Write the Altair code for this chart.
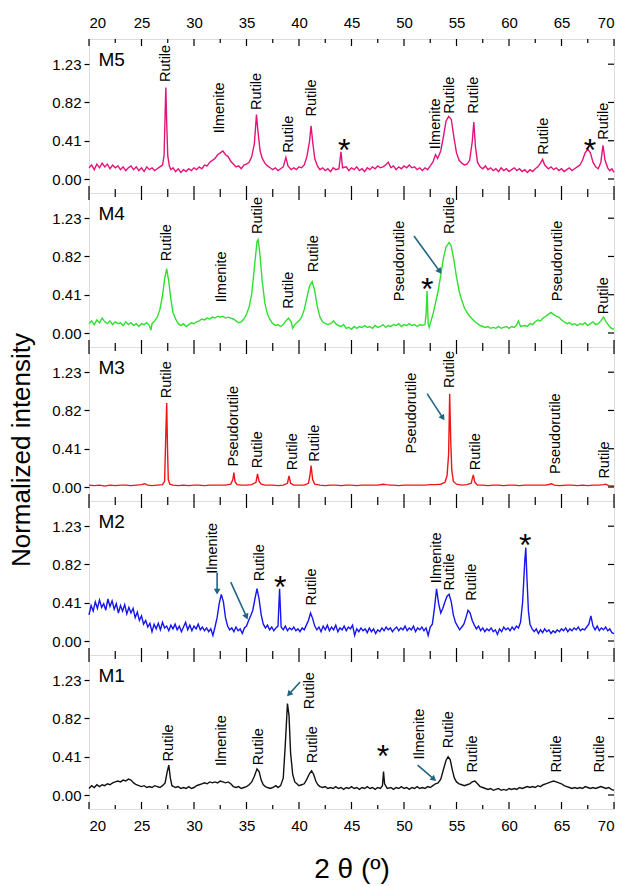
import math
import altair as alt
import pandas as pd

X_DOMAIN = [20, 70]
Y_DOMAIN = [-0.15, 1.5]
W, H = 525, 154
FONT = "Liberation Sans"
TEAL = "#21647e"

x_major = [20, 25, 30, 35, 40, 45, 50, 55, 60, 65, 70]
x_minor = [22.5, 27.5, 32.5, 37.5, 42.5, 47.5, 52.5, 57.5, 62.5, 67.5]
y_ticks = [0.0, 0.41, 0.82, 1.23]

# ---------------- spectra (2theta, normalized intensity) ----------------
m5 = [(20.0, .12), (20.25, .15), (20.5, .10), (20.75, .16), (21.0, .12), (21.25, .17), (21.5, .13), (21.75, .16),
      (22.0, .11), (22.25, .15), (22.5, .12), (22.75, .14), (23.0, .10), (23.25, .13), (23.5, .09), (23.75, .12),
      (24.0, .14), (24.25, .10), (24.5, .13), (24.75, .09), (25.0, .12), (25.25, .08), (25.5, .13), (25.75, .10),
      (26.0, .12), (26.25, .09), (26.5, .11), (26.75, .13), (27.0, .15), (27.15, .25), (27.25, .70), (27.32, .98),
      (27.4, .60), (27.5, .25), (27.65, .14), (27.8, .10), (28.0, .12), (28.25, .08), (28.5, .11), (28.75, .07),
      (29.0, .10), (29.25, .08), (29.5, .11), (29.75, .09), (30.0, .12), (30.25, .10), (30.5, .13), (30.75, .11),
      (31.0, .15), (31.25, .14), (31.5, .18), (31.75, .20), (32.0, .22), (32.25, .26), (32.5, .28), (32.75, .30),
      (33.0, .26), (33.25, .24), (33.5, .19), (33.75, .16), (34.0, .13), (34.25, .14), (34.5, .11), (34.75, .15),
      (35.0, .16), (35.25, .18), (35.5, .24), (35.75, .38), (35.95, .69), (36.1, .50), (36.3, .30), (36.5, .22),
      (36.75, .17), (37.0, .14), (37.25, .12), (37.5, .10), (37.75, .12), (38.0, .09), (38.25, .11), (38.5, .13),
      (38.75, .23), (38.95, .14), (39.25, .10), (39.5, .12), (39.75, .10), (40.0, .13), (40.25, .12), (40.5, .15),
      (40.75, .24), (41.0, .40), (41.15, .57), (41.3, .40), (41.5, .22), (41.75, .14), (42.0, .10), (42.25, .12),
      (42.5, .09), (42.75, .11), (43.0, .08), (43.25, .12), (43.5, .10), (43.8, .11), (44.0, .29), (44.15, .12),
      (44.5, .13), (44.75, .09), (45.0, .12), (45.25, .10), (45.5, .13), (45.75, .09), (46.0, .11), (46.25, .08),
      (46.5, .12), (46.75, .10), (47.0, .13), (47.25, .11), (47.5, .14), (47.75, .12), (48.0, .13), (48.25, .15),
      (48.5, .18), (48.75, .12), (49.0, .14), (49.25, .10), (49.5, .13), (49.75, .11), (50.0, .14), (50.25, .12),
      (50.5, .15), (50.75, .12), (51.0, .13), (51.25, .10), (51.5, .12), (51.75, .09), (52.0, .12), (52.25, .10),
      (52.5, .14), (52.75, .18), (53.0, .26), (53.2, .22), (53.5, .30), (53.75, .45), (54.0, .62), (54.25, .67),
      (54.5, .64), (54.75, .45), (55.0, .28), (55.25, .20), (55.5, .17), (55.75, .15), (56.0, .16), (56.25, .20),
      (56.5, .40), (56.65, .61), (56.8, .35), (57.0, .18), (57.25, .13), (57.5, .11), (57.75, .14), (58.0, .10),
      (58.25, .12), (58.5, .09), (58.75, .11), (59.0, .08), (59.25, .12), (59.5, .09), (59.75, .11), (60.0, .08),
      (60.25, .10), (60.5, .12), (60.75, .09), (61.0, .11), (61.25, .08), (61.5, .10), (61.75, .07), (62.0, .10),
      (62.25, .08), (62.5, .11), (62.75, .13), (63.0, .17), (63.2, .21), (63.4, .15), (63.75, .11), (64.0, .13),
      (64.25, .10), (64.5, .12), (64.75, .09), (65.0, .11), (65.25, .08), (65.5, .10), (65.75, .12), (66.0, .09),
      (66.25, .11), (66.5, .13), (66.75, .15), (67.0, .20), (67.25, .28), (67.5, .32), (67.75, .28), (68.0, .18),
      (68.25, .13), (68.5, .11), (68.75, .18), (68.95, .36), (69.15, .20), (69.4, .12), (69.6, .09), (69.8, .11),
      (70.0, .07)]

m4 = [(20.0, .10), (20.25, .13), (20.5, .09), (20.75, .14), (21.0, .11), (21.25, .16), (21.5, .12), (21.75, .10),
      (22.0, .13), (22.25, .09), (22.5, .12), (22.75, .10), (23.0, .11), (23.25, .08), (23.5, .12), (23.75, .09),
      (24.0, .11), (24.25, .08), (24.5, .10), (24.75, .07), (25.0, .10), (25.25, .09), (25.5, .11), (25.75, .08),
      (25.9, .03), (26.0, .10), (26.25, .13), (26.5, .17), (26.75, .25), (27.0, .40), (27.2, .58), (27.4, .69),
      (27.6, .55), (27.8, .36), (28.0, .22), (28.25, .15), (28.5, .10), (28.75, .08), (29.0, .10), (29.25, .07),
      (29.5, .09), (29.75, .11), (30.0, .10), (30.25, .12), (30.5, .13), (30.75, .15), (31.0, .14), (31.25, .16),
      (31.5, .15), (31.75, .17), (32.0, .16), (32.25, .18), (32.5, .17), (32.75, .18), (33.0, .16), (33.25, .17),
      (33.5, .16), (33.75, .15), (34.0, .13), (34.25, .11), (34.5, .12), (34.75, .15), (35.0, .20), (35.25, .28),
      (35.5, .42), (35.75, .70), (36.0, .98), (36.1, 1.0), (36.25, .88), (36.5, .55), (36.75, .32), (37.0, .20),
      (37.25, .14), (37.5, .10), (37.75, .08), (38.0, .09), (38.25, .07), (38.5, .09), (38.75, .13), (39.0, .16),
      (39.25, .12), (39.4, .05), (39.6, .09), (39.8, .11), (40.0, .13), (40.25, .17), (40.5, .25), (40.75, .38),
      (41.0, .50), (41.25, .55), (41.5, .45), (41.75, .28), (42.0, .17), (42.25, .12), (42.5, .10), (42.75, .09),
      (43.0, .10), (43.3, .13), (43.5, .10), (43.75, .08), (44.0, .07), (44.25, .09), (44.5, .05), (44.75, .06),
      (45.0, .04), (45.25, .07), (45.5, .05), (45.75, .07), (46.0, .06), (46.25, .08), (46.5, .06), (46.75, .07),
      (47.0, .05), (47.25, .08), (47.5, .06), (47.75, .07), (48.0, .09), (48.25, .06), (48.5, .08), (48.75, .07),
      (49.0, .09), (49.25, .08), (49.5, .10), (49.75, .07), (50.0, .09), (50.25, .08), (50.5, .10), (50.75, .08),
      (51.0, .09), (51.25, .07), (51.5, .09), (51.75, .08), (52.0, .09), (52.1, .20), (52.2, .45), (52.3, .10),
      (52.4, .06), (52.6, .14), (52.8, .22), (53.0, .32), (53.25, .45), (53.5, .62), (53.75, .80), (54.0, .92),
      (54.3, .97), (54.5, .93), (54.75, .78), (55.0, .60), (55.25, .45), (55.5, .35), (55.75, .27), (56.0, .22),
      (56.25, .18), (56.5, .15), (56.75, .12), (57.0, .10), (57.25, .08), (57.5, .07), (57.75, .06), (58.0, .07),
      (58.25, .05), (58.5, .06), (58.75, .05), (59.0, .07), (59.25, .05), (59.5, .06), (59.75, .07), (60.0, .05),
      (60.25, .07), (60.5, .06), (60.75, .09), (60.9, .13), (61.1, .07), (61.5, .08), (61.75, .07), (62.0, .10),
      (62.25, .09), (62.5, .12), (62.75, .14), (63.0, .13), (63.25, .16), (63.5, .18), (63.75, .20), (64.0, .22),
      (64.25, .20), (64.5, .18), (64.75, .17), (65.0, .14), (65.25, .12), (65.5, .10), (65.75, .11), (66.0, .09),
      (66.25, .10), (66.5, .08), (66.75, .10), (67.0, .09), (67.25, .11), (67.5, .08), (67.75, .10), (68.0, .12),
      (68.25, .09), (68.5, .10), (68.75, .13), (69.0, .17), (69.25, .12), (69.5, .08), (69.75, .05), (70.0, .04)]

m3 = [(20.0, .02), (20.5, .015), (21.0, .02), (21.5, .01), (22.0, .02), (22.5, .015), (23.0, .02), (23.5, .02),
      (24.0, .015), (24.5, .02), (25.0, .025), (25.3, .035), (25.6, .02), (26.0, .015), (26.5, .02), (27.0, .025),
      (27.2, .06), (27.3, .50), (27.4, .90), (27.48, .40), (27.55, .08), (27.7, .03), (28.0, .02), (28.5, .015),
      (29.0, .02), (29.5, .015), (30.0, .02), (30.5, .02), (31.0, .015), (31.5, .02), (32.0, .02), (32.5, .02),
      (33.0, .02), (33.5, .03), (33.7, .08), (33.8, .155), (33.9, .06), (34.1, .025), (34.5, .02), (35.0, .02),
      (35.5, .025), (35.9, .05), (36.05, .14), (36.2, .06), (36.4, .03), (36.8, .02), (37.5, .02), (38.0, .015),
      (38.5, .02), (38.9, .04), (39.05, .12), (39.2, .04), (39.5, .02), (40.0, .02), (40.5, .02), (40.9, .04),
      (41.05, .13), (41.15, .23), (41.3, .08), (41.5, .03), (42.0, .02), (42.5, .015), (43.0, .02), (43.5, .02),
      (44.0, .015), (44.5, .02), (45.0, .02), (45.5, .015), (46.0, .02), (46.5, .02), (47.0, .02), (47.5, .02),
      (48.0, .03), (48.3, .025), (48.7, .02), (49.0, .02), (49.5, .015), (50.0, .02), (50.5, .02), (51.0, .02),
      (51.5, .02), (52.0, .02), (52.5, .025), (53.0, .025), (53.5, .03), (53.9, .05), (54.1, .12), (54.25, .35),
      (54.35, 1.0), (54.45, .50), (54.55, .18), (54.7, .06), (55.0, .03), (55.5, .02), (56.0, .025), (56.4, .04),
      (56.6, .13), (56.75, .05), (57.0, .02), (57.5, .02), (58.0, .015), (58.5, .02), (59.0, .02), (59.5, .015),
      (60.0, .02), (60.5, .02), (61.0, .015), (61.5, .02), (62.0, .02), (62.5, .02), (63.0, .02), (63.5, .02),
      (63.9, .03), (64.05, .035), (64.3, .02), (64.8, .015), (65.5, .02), (66.0, .02), (66.5, .015), (67.0, .02),
      (67.5, .015), (68.0, .02), (68.5, .02), (69.0, .025), (69.2, .03), (69.5, .015), (70.0, .01)]

m2 = [(20.0, .28), (20.2, .38), (20.4, .32), (20.6, .42), (20.8, .35), (21.0, .44), (21.2, .36), (21.4, .40),
      (21.6, .33), (21.8, .45), (22.0, .37), (22.2, .43), (22.4, .34), (22.6, .40), (22.8, .30), (23.0, .38),
      (23.2, .32), (23.4, .39), (23.6, .29), (23.8, .36), (24.0, .30), (24.2, .35), (24.4, .25), (24.6, .31),
      (24.8, .22), (25.0, .27), (25.2, .18), (25.4, .22), (25.6, .15), (25.8, .19), (26.0, .10), (26.2, .18),
      (26.4, .13), (26.6, .19), (26.8, .12), (27.0, .20), (27.2, .14), (27.4, .16), (27.6, .11), (27.8, .17),
      (28.0, .13), (28.2, .18), (28.4, .12), (28.6, .16), (28.8, .10), (29.0, .15), (29.2, .20), (29.4, .12),
      (29.6, .17), (29.8, .11), (30.0, .16), (30.2, .13), (30.4, .18), (30.6, .12), (30.8, .15), (31.0, .11),
      (31.2, .14), (31.4, .10), (31.6, .13), (31.8, .06), (32.0, .15), (32.2, .25), (32.4, .40), (32.6, .50),
      (32.8, .42), (33.0, .25), (33.2, .16), (33.4, .12), (33.6, .14), (33.8, .10), (34.0, .15), (34.2, .11),
      (34.4, .13), (34.6, .08), (34.8, .14), (35.0, .16), (35.2, .22), (35.4, .27), (35.6, .33), (35.8, .45),
      (36.0, .56), (36.2, .45), (36.4, .28), (36.6, .18), (36.8, .14), (37.0, .17), (37.2, .12), (37.4, .15),
      (37.6, .11), (37.8, .14), (38.0, .16), (38.15, .56), (38.3, .15), (38.5, .12), (38.7, .16), (38.9, .11),
      (39.1, .14), (39.3, .12), (39.5, .15), (39.7, .11), (39.9, .13), (40.1, .10), (40.3, .14), (40.5, .12),
      (40.7, .17), (40.9, .22), (41.1, .30), (41.3, .24), (41.5, .16), (41.7, .12), (41.9, .15), (42.1, .10),
      (42.3, .16), (42.5, .12), (42.7, .17), (42.9, .11), (43.1, .15), (43.3, .12), (43.5, .17), (43.7, .10),
      (43.9, .14), (44.1, .12), (44.3, .16), (44.5, .11), (44.7, .15), (44.9, .13), (45.1, .17), (45.3, .06),
      (45.5, .13), (45.7, .10), (45.9, .14), (46.1, .11), (46.3, .13), (46.5, .09), (46.7, .14), (46.9, .10),
      (47.1, .13), (47.3, .08), (47.5, .12), (47.7, .10), (47.9, .14), (48.1, .11), (48.3, .15), (48.5, .12),
      (48.7, .14), (48.9, .10), (49.1, .13), (49.3, .15), (49.5, .11), (49.7, .14), (49.9, .12), (50.1, .16),
      (50.3, .11), (50.5, .14), (50.7, .12), (50.9, .16), (51.1, .10), (51.3, .14), (51.5, .12), (51.7, .15),
      (51.9, .11), (52.1, .14), (52.3, .06), (52.5, .15), (52.7, .18), (52.9, .35), (53.1, .56), (53.3, .40),
      (53.5, .30), (53.7, .35), (53.9, .42), (54.1, .48), (54.3, .50), (54.5, .42), (54.7, .28), (54.9, .20),
      (55.1, .16), (55.3, .12), (55.5, .15), (55.7, .18), (55.9, .25), (56.1, .33), (56.3, .30), (56.5, .22),
      (56.7, .17), (56.9, .13), (57.1, .16), (57.3, .11), (57.5, .14), (57.7, .10), (57.9, .13), (58.1, .11),
      (58.3, .14), (58.5, .10), (58.7, .12), (58.9, .07), (59.1, .13), (59.3, .10), (59.5, .15), (59.7, .12),
      (59.9, .14), (60.1, .11), (60.3, .15), (60.5, .12), (60.7, .16), (60.9, .14), (61.1, .20), (61.3, .42),
      (61.5, .85), (61.6, 1.0), (61.7, .70), (61.85, .32), (62.0, .18), (62.2, .13), (62.4, .10), (62.6, .13),
      (62.8, .08), (63.0, .12), (63.2, .09), (63.4, .13), (63.6, .10), (63.8, .12), (64.0, .08), (64.2, .11),
      (64.4, .09), (64.6, .12), (64.8, .10), (65.0, .13), (65.2, .11), (65.4, .14), (65.6, .10), (65.8, .13),
      (66.0, .11), (66.2, .14), (66.4, .12), (66.6, .15), (66.8, .11), (67.0, .13), (67.2, .12), (67.4, .15),
      (67.6, .18), (67.8, .27), (68.0, .16), (68.2, .12), (68.4, .16), (68.6, .11), (68.8, .14), (69.0, .12),
      (69.2, .15), (69.4, .11), (69.6, .13), (69.8, .09), (70.0, .08)]

m1 = [(20.0, .07), (20.25, .10), (20.5, .08), (20.75, .11), (21.0, .09), (21.25, .11), (21.5, .10), (21.75, .12),
      (22.0, .11), (22.25, .13), (22.5, .14), (22.75, .15), (23.0, .14), (23.25, .16), (23.5, .15), (23.75, .17),
      (24.0, .16), (24.25, .13), (24.5, .11), (24.75, .10), (25.0, .09), (25.25, .10), (25.5, .08), (25.75, .09),
      (26.0, .08), (26.25, .10), (26.5, .09), (26.75, .08), (27.0, .10), (27.25, .13), (27.45, .25), (27.6, .32),
      (27.75, .18), (27.9, .10), (28.25, .08), (28.5, .09), (28.75, .07), (29.0, .08), (29.25, .07), (29.5, .09),
      (29.75, .07), (30.0, .08), (30.25, .10), (30.5, .11), (30.75, .12), (31.0, .13), (31.25, .12), (31.5, .14),
      (31.75, .13), (32.0, .14), (32.25, .13), (32.5, .15), (32.75, .14), (33.0, .13), (33.25, .14), (33.5, .12),
      (33.75, .09), (34.0, .08), (34.25, .09), (34.5, .07), (34.75, .08), (35.0, .09), (35.25, .11), (35.5, .14),
      (35.75, .20), (36.0, .28), (36.2, .25), (36.4, .16), (36.6, .11), (36.8, .09), (37.0, .08), (37.25, .07),
      (37.5, .08), (37.8, .10), (38.0, .08), (38.25, .10), (38.5, .18), (38.7, .55), (38.9, .98), (39.05, .85),
      (39.2, .45), (39.4, .22), (39.6, .14), (39.8, .12), (40.0, .10), (40.25, .11), (40.5, .12), (40.75, .17),
      (41.0, .23), (41.2, .26), (41.4, .22), (41.6, .15), (41.8, .11), (42.0, .09), (42.25, .08), (42.5, .09),
      (42.75, .07), (43.0, .08), (43.25, .07), (43.5, .09), (43.75, .07), (44.0, .08), (44.25, .06), (44.5, .08),
      (44.75, .07), (45.0, .09), (45.25, .07), (45.5, .08), (45.75, .06), (46.0, .08), (46.25, .07), (46.5, .09),
      (46.75, .07), (47.0, .08), (47.25, .06), (47.5, .08), (47.75, .07), (47.95, .10), (48.05, .25), (48.15, .12),
      (48.4, .07), (48.75, .08), (49.0, .06), (49.25, .08), (49.5, .07), (49.75, .09), (50.0, .07), (50.25, .08),
      (50.5, .06), (50.75, .08), (51.0, .07), (51.25, .09), (51.5, .07), (51.75, .08), (52.0, .07), (52.25, .09),
      (52.5, .08), (52.75, .10), (53.0, .12), (53.25, .13), (53.5, .17), (53.75, .27), (54.0, .37), (54.2, .41),
      (54.4, .38), (54.6, .27), (54.8, .18), (55.0, .14), (55.25, .12), (55.5, .11), (55.75, .10), (56.0, .11),
      (56.25, .12), (56.5, .14), (56.75, .15), (57.0, .12), (57.25, .09), (57.5, .08), (57.75, .07), (58.0, .06),
      (58.25, .07), (58.5, .05), (58.75, .06), (59.0, .07), (59.25, .05), (59.5, .06), (59.75, .05), (60.0, .07),
      (60.25, .06), (60.5, .07), (60.75, .06), (61.0, .08), (61.25, .07), (61.5, .08), (61.75, .09), (62.0, .08),
      (62.25, .09), (62.5, .08), (62.75, .10), (63.0, .09), (63.25, .11), (63.5, .12), (63.75, .13), (64.0, .14),
      (64.25, .15), (64.5, .14), (64.75, .13), (65.0, .12), (65.25, .10), (65.5, .09), (65.75, .08), (66.0, .07),
      (66.25, .08), (66.5, .07), (66.75, .08), (67.0, .07), (67.25, .09), (67.5, .08), (67.75, .07), (68.0, .08),
      (68.25, .07), (68.5, .08), (68.75, .09), (69.0, .08), (69.25, .07), (69.5, .08), (69.75, .06), (70.0, .05)]

# ---------------- annotations: (2theta, y of text start, text) ----------------
m5_labels = [(27.3, 1.04, "Rutile"), (32.5, 0.49, "Ilmenite"), (36.0, 0.74, "Rutile"), (39.0, 0.28, "Rutile"),
             (41.2, 0.67, "Rutile"), (53.0, 0.32, "Ilmenite"), (54.4, 0.70, "Rutile"), (56.7, 0.70, "Rutile"),
             (63.3, 0.26, "Rutile"), (69.05, 0.42, "Rutile")]
m5_stars = [(44.3, 0.40), (67.7, 0.40)]
m5_arrows = []

m4_labels = [(27.4, 0.77, "Rutile"), (32.7, 0.33, "Ilmenite"), (36.1, 1.06, "Rutile"), (39.05, 0.26, "Rutile"),
             (41.4, 0.65, "Rutile"), (49.6, 0.34, "Pseudorutile"), (54.4, 1.06, "Rutile"),
             (64.7, 0.34, "Pseudorutile"), (69.05, 0.20, "Rutile")]
m4_stars = [(52.2, 0.56)]
m4_arrows = [(50.95, 1.04, 53.4, 0.66)]

m3_labels = [(27.4, 0.95, "Rutile"), (33.8, 0.22, "Pseudorutile"), (36.1, 0.20, "Rutile"), (39.4, 0.18, "Rutile"),
             (41.5, 0.27, "Rutile"), (50.8, 0.36, "Pseudorutile"), (54.4, 1.06, "Rutile"), (56.85, 0.18, "Rutile"),
             (64.5, 0.14, "Pseudorutile"), (69.15, 0.09, "Rutile")]
m3_stars = []
m3_arrows = [(52.2, 1.00, 53.7, 0.74)]

m2_labels = [(31.8, 0.72, "Ilmenite"), (36.3, 0.64, "Rutile"), (41.2, 0.38, "Rutile"), (53.15, 0.62, "Ilmenite"),
             (54.4, 0.54, "Rutile"), (56.5, 0.43, "Rutile")]
m2_stars = [(38.2, 0.66), (61.55, 1.11)]
m2_arrows = [(32.2, 0.73, 32.2, 0.53), (33.5, 0.63, 35.0, 0.26)]

m1_labels = [(27.6, 0.36, "Rutile"), (32.65, 0.31, "Ilmenite"), (36.15, 0.32, "Rutile"), (41.0, 0.92, "Rutile"),
             (41.35, 0.34, "Rutile"), (51.5, 0.38, "Ilmenite"), (54.25, 0.50, "Rutile"), (56.6, 0.24, "Rutile"),
             (64.6, 0.24, "Rutile"), (68.65, 0.24, "Rutile")]
m1_stars = [(48.0, 0.50)]
m1_arrows = [(40.1, 1.21, 39.05, 1.08), (51.3, 0.32, 52.85, 0.17)]

panels = [
    ("M5", m5, "#e4137b", m5_labels, m5_stars, m5_arrows),
    ("M4", m4, "#2fe02f", m4_labels, m4_stars, m4_arrows),
    ("M3", m3, "#f01515", m3_labels, m3_stars, m3_arrows),
    ("M2", m2, "#1515f0", m2_labels, m2_stars, m2_arrows),
    ("M1", m1, "#111111", m1_labels, m1_stars, m1_arrows),
]

PX_PER_X = W / (X_DOMAIN[1] - X_DOMAIN[0])
PX_PER_Y = H / (Y_DOMAIN[1] - Y_DOMAIN[0])


def make_panel(i, name, pts, color, labels, stars, arrows):
    top = i == 0
    bottom = i == len(panels) - 1
    xs = alt.Scale(domain=X_DOMAIN, nice=False, zero=False)
    ys = alt.Scale(domain=Y_DOMAIN, nice=False, zero=False)
    if top:
        xaxis = alt.Axis(orient="top", values=x_major, format="d", ticks=False, domain=False, grid=False,
                         labelFontSize=15, labelPadding=9, title=None)
    elif bottom:
        xaxis = alt.Axis(orient="bottom", values=x_major, format="d", ticks=False, domain=False, grid=False,
                         labelFontSize=15, labelPadding=9, title="2 θ (º)", titleFontSize=28,
                         titleFontWeight="normal", titlePadding=22)
    else:
        xaxis = None
    yaxis = alt.Axis(values=y_ticks, format=".2f", labelFontSize=15, tickSize=5, tickWidth=1.2,
                     tickColor="black", domain=False, grid=False, title=None, labelPadding=3)
    X = alt.X("x:Q", scale=xs, axis=xaxis)
    Y = alt.Y("y:Q", scale=ys, axis=yaxis)

    df = pd.DataFrame(pts, columns=["x", "y"])
    layers = [alt.Chart(df).mark_line(color=color, strokeWidth=1.4).encode(x=X, y=Y)]

    # inward ticks on top / bottom / right edges
    maj = pd.DataFrame({"x": x_major})
    mnr = pd.DataFrame({"x": x_minor})
    for d, ln in ((maj, 7), (mnr, 4)):
        layers.append(alt.Chart(d).mark_rule(color="black", strokeWidth=1.2).encode(
            x=X, y=alt.value(0), y2=alt.value(ln)))
        layers.append(alt.Chart(d).mark_rule(color="black", strokeWidth=1.2).encode(
            x=X, y=alt.value(H), y2=alt.value(H - ln)))
    yt = pd.DataFrame({"y": y_ticks})
    layers.append(alt.Chart(yt).mark_rule(color="black", strokeWidth=1.2).encode(
        y=Y, x=alt.value(W), x2=alt.value(W - 6)))

    lab = pd.DataFrame(labels, columns=["x", "y", "t"])
    layers.append(alt.Chart(lab).mark_text(angle=270, align="left", baseline="middle", fontSize=14.5,
                                           font=FONT, color="black").encode(x=X, y=Y, text="t:N"))
    if stars:
        st = pd.DataFrame(stars, columns=["x", "y"])
        layers.append(alt.Chart(st).mark_text(text="*", fontSize=32, font=FONT, color="black",
                                              baseline="middle", dy=9).encode(x=X, y=Y))
    if arrows:
        ar = pd.DataFrame(arrows, columns=["x", "y", "x2", "y2"])
        ar["ang"] = [
            math.degrees(math.atan2((b - a) * PX_PER_X, (d - c) * PX_PER_Y)) % 360
            for a, c, b, d in zip(ar["x"], ar["y"], ar["x2"], ar["y2"])
        ]
        layers.append(alt.Chart(ar).mark_rule(color=TEAL, strokeWidth=1.6).encode(
            x=X, y=Y, x2="x2:Q", y2="y2:Q"))
        layers.append(alt.Chart(ar).mark_point(shape="triangle-up", filled=True, color=TEAL, opacity=1,
                                               size=45).encode(
            x=alt.X("x2:Q", scale=xs, axis=xaxis), y=alt.Y("y2:Q", scale=ys, axis=yaxis),
            angle=alt.Angle("ang:Q", scale=None)))

    nm = pd.DataFrame({"x": [20.9], "y": [1.27], "t": [name]})
    layers.append(alt.Chart(nm).mark_text(align="left", baseline="middle", fontSize=19, font=FONT,
                                          color="black").encode(x=X, y=Y, text="t:N"))
    if name == "M3":
        layers.append(alt.Chart(nm).mark_text(angle=270, align="center", baseline="middle", fontSize=26,
                                              font=FONT, color="black").encode(
            x=alt.value(-67), y=alt.value(H / 2 + 26), text=alt.value("Normalized intensity")))
    return alt.layer(*layers).properties(width=W, height=H)


charts = [make_panel(i, *p) for i, p in enumerate(panels)]

chart = alt.vconcat(*charts, spacing=0, bounds="flush").properties(
    padding={"left": 8, "top": 14, "right": 5, "bottom": 5}
).configure_view(stroke="black", strokeWidth=1.5).configure_axis(
    labelFont=FONT, titleFont=FONT, labelColor="black", titleColor="black"
).configure(background="white")

chart.save("out.html", embed_options={"renderer": "svg", "actions": False})
